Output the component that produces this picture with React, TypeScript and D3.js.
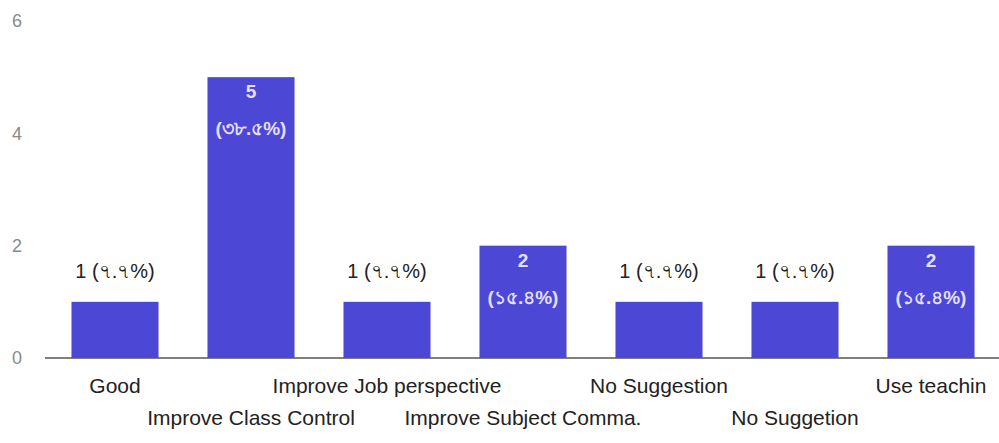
import React from "react";
import * as d3 from "d3";

const categories = [
  "Good",
  "Improve Class Control",
  "Improve Job perspective",
  "Improve Subject Comma.",
  "No Suggestion",
  "No Suggetion",
  "Use teachin",
];
const values = [1, 5, 1, 2, 1, 1, 2];
const percentLabels = ["(৭.৭%)", "(৩৮.৫%)", "(৭.৭%)", "(১৫.৪%)", "(৭.৭%)", "(৭.৭%)", "(১৫.৪%)"];
const yTicks = [0, 2, 4, 6];

const W = 999;
const H = 443;

export default function App() {
  const x = d3.scaleBand<number>().domain(d3.range(categories.length)).range([47, 999]).paddingInner(0.36).paddingOuter(0.18);
  const y = d3.scaleLinear().domain([0, 6]).range([358, 21]);
  const font = "Arial, 'Liberation Sans', sans-serif";
  return (
    <svg width={W} height={H} style={{ position: "absolute", left: 0, top: 0, background: "#fff" }}>
      {yTicks.map((t) => (
        <text key={t} x={17} y={y(t)} dy="0.35em" textAnchor="middle" fontSize={18} fill="#8a8a8a" fontFamily={font}>
          {t}
        </text>
      ))}
      <line x1={45} x2={999} y1={y(0)} y2={y(0)} stroke="#555" strokeWidth={1.5} />
      {values.map((v, i) => {
        const bx = x(i)!;
        const bw = x.bandwidth();
        const top = y(v);
        const cx = bx + bw / 2;
        return (
          <g key={i}>
            <rect x={bx} y={top} width={bw} height={y(0) - top} fill="#4d47d6" />
            {v > 1 ? (
              <g fill="#e4e0ff" fontSize={19} fontFamily={font} textAnchor="middle" fontWeight="bold">
                <text x={cx} y={top + 21}>{v}</text>
                <text x={cx} y={top + 58}>{percentLabels[i]}</text>
              </g>
            ) : (
              <text x={cx} y={top - 24} textAnchor="middle" fontSize={20} fill="#222" fontFamily={font}>
                {`${v} ${percentLabels[i]}`}
              </text>
            )}
            <text
              x={cx}
              y={i % 2 === 0 ? 393 : 425}
              textAnchor="middle"
              fontSize={21}
              fill="#222"
              fontFamily={font}
            >
              {categories[i]}
            </text>
          </g>
        );
      })}
    </svg>
  );
}
